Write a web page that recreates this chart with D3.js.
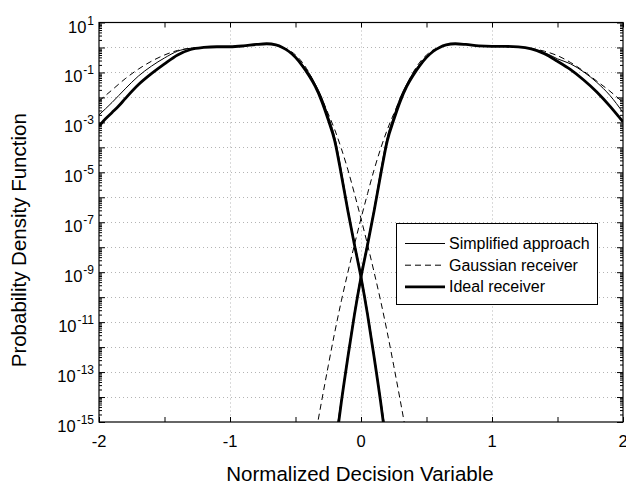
<!DOCTYPE html>
<html>
<head>
<meta charset="utf-8">
<script src="https://cdn.jsdelivr.net/npm/d3@7"></script>
<style>
  html, body { margin: 0; padding: 0; background: #fff; }
  svg { display: block; font-family: "Liberation Sans", Arial, sans-serif; }
</style>
</head>
<body>
<svg id="chart" width="626" height="485"></svg>
<script>
// ---------- data ----------
const xTicks = [-2, -1.5, -1, -0.5, 0, 0.5, 1, 1.5, 2];
const xTickLabels = ["-2", "-1", "0", "1", "2"];
const xTickLabelValues = [-2, -1, 0, 1, 2];
const yLabelExponents = [1, -1, -3, -5, -7, -9, -11, -13, -15];
const seriesNames = ["Simplified approach", "Gaussian receiver", "Ideal receiver"];

// "0"-symbol densities (centered near -1)
const idealLeftX = [-2.0,-1.95,-1.9,-1.85,-1.8,-1.7,-1.6,-1.5,-1.4,-1.3,-1.2,-1.1,-1.0,-0.9,-0.8,-0.72,-0.65,-0.6,-0.55,-0.5,-0.45,-0.4,-0.35,-0.3,-0.25,-0.2,-0.15,-0.1,-0.05,0,0.05,0.1,0.15,0.18];
const idealLeftY = [7.1e-4,1.4e-3,2.5e-3,4.5e-3,8.9e-3,3.2e-2,8.9e-2,0.22,0.5,0.83,1.0,1.07,1.07,1.15,1.32,1.41,1.26,1.0,0.69,0.4,0.19,7.9e-2,2.8e-2,7.1e-3,1.26e-3,1.78e-4,7.9e-6,2.8e-7,1.26e-8,6.3e-10,2.0e-11,4.0e-13,6.3e-15,4.0e-16];

const simpLeftX = [-2.0,-1.9,-1.8,-1.7,-1.6,-1.5,-1.4,-1.3,-1.2,-1.1,-1.0,-0.9,-0.8,-0.72,-0.65,-0.6,-0.55,-0.5,-0.45,-0.4,-0.35,-0.3,-0.25,-0.2,-0.15,-0.1,-0.05,0,0.05,0.1,0.15,0.185];
const simpLeftY = [2.0e-3,6.3e-3,2.2e-2,7.1e-2,0.178,0.38,0.71,0.93,1.0,1.07,1.07,1.15,1.32,1.41,1.26,1.0,0.72,0.45,0.22,0.1,3.5e-2,1.0e-2,1.78e-3,2.5e-4,1.12e-5,3.5e-7,1.58e-8,7.9e-10,2.5e-11,5.0e-13,7.9e-15,5.0e-16];

const gaussLeftX = [-2.0,-1.9,-1.8,-1.7,-1.6,-1.5,-1.4,-1.3,-1.2,-1.1,-1.0,-0.9,-0.8,-0.72,-0.65,-0.6,-0.55,-0.5,-0.45,-0.4,-0.35,-0.3,-0.25,-0.2,-0.15,-0.1,-0.05,0,0.05,0.1,0.15,0.2,0.25,0.3,0.34];
const gaussLeftY = [7.1e-3,2.0e-2,5.6e-2,0.135,0.28,0.5,0.76,0.93,1.0,1.07,1.07,1.15,1.32,1.41,1.26,1.0,0.79,0.5,0.26,0.105,3.2e-2,8.9e-3,2.2e-3,5.0e-4,8.9e-5,1.26e-5,1.4e-6,1.4e-7,1.26e-8,1.0e-9,7.1e-11,4.0e-12,1.78e-13,7.1e-15,5.0e-16];

// "1"-symbol densities (centered near +1)
const idealRightX = [-0.18,-0.15,-0.1,-0.05,0,0.05,0.1,0.15,0.2,0.25,0.3,0.35,0.4,0.45,0.5,0.55,0.6,0.65,0.72,0.8,0.9,1.0,1.1,1.2,1.3,1.4,1.5,1.6,1.7,1.8,1.9,1.95,2.0];
const idealRightY = [4.0e-16,6.3e-15,4.0e-13,2.0e-11,6.3e-10,1.26e-8,2.8e-7,7.9e-6,1.78e-4,1.26e-3,7.1e-3,2.8e-2,7.9e-2,0.19,0.4,0.69,1.0,1.26,1.41,1.32,1.15,1.1,1.1,1.05,0.87,0.56,0.28,0.13,5.0e-2,1.66e-2,4.5e-3,2.2e-3,1.05e-3];

const simpRightX = [-0.185,-0.15,-0.1,-0.05,0,0.05,0.1,0.15,0.2,0.25,0.3,0.35,0.4,0.45,0.5,0.55,0.6,0.65,0.72,0.8,0.9,1.0,1.1,1.2,1.3,1.4,1.5,1.6,1.7,1.8,1.9,2.0];
const simpRightY = [5.0e-16,7.9e-15,5.0e-13,2.5e-11,7.9e-10,1.58e-8,3.5e-7,1.12e-5,2.5e-4,1.78e-3,1.0e-2,3.5e-2,0.1,0.22,0.45,0.72,1.0,1.26,1.41,1.32,1.15,1.1,1.1,1.05,0.89,0.63,0.35,0.22,0.105,4.0e-2,1.2e-2,2.5e-3];

const gaussRightX = [-0.34,-0.3,-0.25,-0.2,-0.15,-0.1,-0.05,0,0.05,0.1,0.15,0.2,0.25,0.3,0.35,0.4,0.45,0.5,0.55,0.6,0.65,0.72,0.8,0.9,1.0,1.1,1.2,1.3,1.4,1.5,1.6,1.7,1.8,1.9,2.0];
const gaussRightY = [5.0e-16,7.1e-15,1.78e-13,4.0e-12,7.1e-11,1.0e-9,1.26e-8,1.4e-7,1.4e-6,1.26e-5,8.9e-5,5.0e-4,2.2e-3,8.9e-3,3.2e-2,0.105,0.26,0.5,0.79,1.0,1.26,1.41,1.32,1.15,1.1,1.1,1.05,0.91,0.71,0.47,0.25,0.112,4.5e-2,1.78e-2,6.3e-3];

// ---------- layout ----------
const svg = d3.select("#chart");
const L = 99, R = 623, T = 22.5, B = 422;
const x = d3.scaleLinear().domain([-2, 2]).range([L, R]);
const y = d3.scaleLog().domain([1e-15, 10]).range([B, T]);

// clip
svg.append("defs").append("clipPath").attr("id", "plotclip")
  .append("rect").attr("x", L).attr("y", T).attr("width", R - L).attr("height", B - T);

// grid
const decades = d3.range(-14, 1).map(e => Math.pow(10, e));
const grid = svg.append("g").attr("stroke", "#b4b4b4").attr("stroke-width", 1)
  .attr("stroke-dasharray", "1,3");
grid.selectAll("line.gy").data(decades).join("line")
  .attr("x1", L).attr("x2", R)
  .attr("y1", d => Math.round(y(d)) + 0.5).attr("y2", d => Math.round(y(d)) + 0.5);
grid.selectAll("line.gx").data([-1, 0, 1]).join("line")
  .attr("y1", T).attr("y2", B)
  .attr("x1", d => Math.round(x(d)) + 0.5).attr("x2", d => Math.round(x(d)) + 0.5);

// axes (ticks inward, on all four sides)
const minorLog = [];
for (let e = -15; e < 1; e++) for (let m = 2; m <= 9; m++) minorLog.push(m * Math.pow(10, e));
const majorLog = d3.range(-15, 2).map(e => Math.pow(10, e));

function yAxisGen(gen, major) {
  return gen(y).tickValues(major ? majorLog : minorLog).tickSize(major ? -6 : -3).tickFormat("");
}
function styleAxis(g) {
  g.select(".domain").remove();
  g.selectAll(".tick line").attr("stroke", "#000").attr("stroke-width", 1);
}
svg.append("g").attr("transform", `translate(${L},0)`).call(yAxisGen(d3.axisLeft, true)).call(styleAxis);
svg.append("g").attr("transform", `translate(${L},0)`).call(yAxisGen(d3.axisLeft, false)).call(styleAxis);
svg.append("g").attr("transform", `translate(${R},0)`).call(yAxisGen(d3.axisRight, true)).call(styleAxis);
svg.append("g").attr("transform", `translate(${R},0)`).call(yAxisGen(d3.axisRight, false)).call(styleAxis);
svg.append("g").attr("transform", `translate(0,${B})`)
  .call(d3.axisBottom(x).tickValues(xTicks).tickSize(-5).tickFormat("")).call(styleAxis);
svg.append("g").attr("transform", `translate(0,${T})`)
  .call(d3.axisTop(x).tickValues(xTicks).tickSize(-5).tickFormat("")).call(styleAxis);

// frame
svg.append("rect").attr("x", L).attr("y", T).attr("width", R - L).attr("height", B - T)
  .attr("fill", "none").attr("stroke", "#000").attr("stroke-width", 1.2);

// x tick labels
svg.append("g").selectAll("text").data(xTickLabelValues).join("text")
  .attr("x", d => x(d)).attr("y", 447)
  .attr("text-anchor", "middle").attr("font-size", 16.5).attr("fill", "#000")
  .text((d, i) => xTickLabels[i]);

// y tick labels 10^e
const yl = svg.append("g").selectAll("text").data(yLabelExponents).join("text")
  .attr("x", 94).attr("y", d => y(Math.pow(10, d)) + 10)
  .attr("text-anchor", "end").attr("fill", "#000");
yl.append("tspan").attr("font-size", 16.5).text("10");
yl.append("tspan").attr("font-size", 12).attr("dy", -8).attr("dx", 1).text(d => d < 0 ? "-" + (-d) : String(d));

// axis titles
svg.append("text").attr("x", (L + R) / 2 - 1).attr("y", 481)
  .attr("text-anchor", "middle").attr("font-size", 20.5).attr("fill", "#000")
  .text("Normalized Decision Variable");
svg.append("text").attr("transform", `translate(26,${(T + B) / 2 + 18}) rotate(-90)`)
  .attr("text-anchor", "middle").attr("font-size", 20.5).attr("fill", "#000")
  .text("Probability Density Function");

// curves
const lineGen = d3.line().x(d => x(d[0])).y(d => y(d[1])).curve(d3.curveMonotoneX);
const zip = (xs, ys) => xs.map((v, i) => [v, ys[i]]);
const series = [
  { xs: simpLeftX, ys: simpLeftY, w: 1, dash: null },
  { xs: simpRightX, ys: simpRightY, w: 1, dash: null },
  { xs: gaussLeftX, ys: gaussLeftY, w: 1, dash: "6,4" },
  { xs: gaussRightX, ys: gaussRightY, w: 1, dash: "6,4" },
  { xs: idealLeftX, ys: idealLeftY, w: 2.8, dash: null },
  { xs: idealRightX, ys: idealRightY, w: 2.8, dash: null }
];
const cg = svg.append("g").attr("clip-path", "url(#plotclip)");
series.forEach(s => {
  cg.append("path").datum(zip(s.xs, s.ys))
    .attr("d", lineGen).attr("fill", "none").attr("stroke", "#000")
    .attr("stroke-width", s.w).attr("stroke-dasharray", s.dash)
    .attr("stroke-linejoin", "round");
});

// legend
const lg = svg.append("g");
lg.append("rect").attr("x", 396.5).attr("y", 223.5).attr("width", 201).attr("height", 81)
  .attr("fill", "#fff").attr("stroke", "#000").attr("stroke-width", 1);
const legendStyles = [{ w: 1, dash: null }, { w: 1, dash: "6,4" }, { w: 2.8, dash: null }];
seriesNames.forEach((name, i) => {
  const cy = 243.5 + i * 21.7;
  lg.append("line").attr("x1", 405).attr("x2", 445).attr("y1", cy).attr("y2", cy)
    .attr("stroke", "#000").attr("stroke-width", legendStyles[i].w)
    .attr("stroke-dasharray", legendStyles[i].dash);
  lg.append("text").attr("x", 449).attr("y", cy + 5.5).attr("font-size", 16)
    .attr("fill", "#000").text(name);
});
</script>
</body>
</html>
